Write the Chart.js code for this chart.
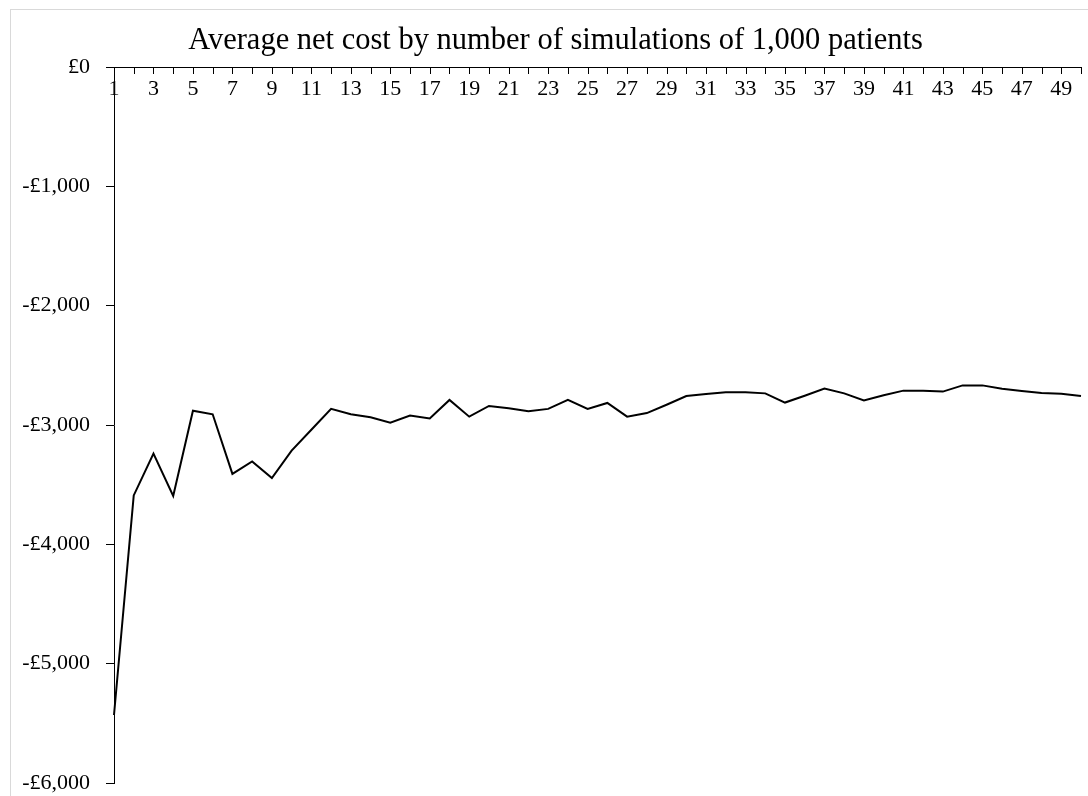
<!DOCTYPE html>
<html>
<head>
<meta charset="utf-8">
<script src="https://cdn.jsdelivr.net/npm/chart.js@4.4.1/dist/chart.umd.min.js"></script>
<style>
  html, body { margin: 0; padding: 0; background: #fff; overflow: hidden; }
  #frame { position: absolute; left: 10px; top: 9px; width: 1200px; height: 900px; border: 1px solid #d9d9d9; }
  #chart { position: absolute; left: 0; top: 0; }
</style>
</head>
<body>
<div id="frame"></div>
<canvas id="chart" width="1088" height="796"></canvas>
<script>
const simulations = ['1', '2', '3', '4', '5', '6', '7', '8', '9', '10',
  '11', '12', '13', '14', '15', '16', '17', '18', '19', '20',
  '21', '22', '23', '24', '25', '26', '27', '28', '29', '30',
  '31', '32', '33', '34', '35', '36', '37', '38', '39', '40',
  '41', '42', '43', '44', '45', '46', '47', '48', '49', '50'];

const avgNetCost = [-5430, -3590, -3240, -3595, -2880, -2910, -3410, -3305, -3445, -3215,
  -3040, -2865, -2910, -2935, -2980, -2920, -2945, -2790, -2930, -2840,
  -2860, -2885, -2865, -2790, -2865, -2815, -2930, -2900, -2830, -2757,
  -2740, -2725, -2725, -2735, -2812, -2755, -2695, -2735, -2795, -2750,
  -2712, -2712, -2720, -2668, -2668, -2696, -2715, -2732, -2738, -2757];

const yTicks = [0, -1000, -2000, -3000, -4000, -5000, -6000];
const yTickLabels = ['£0', '-£1,000', '-£2,000', '-£3,000', '-£4,000', '-£5,000', '-£6,000'];

const serif = "'Liberation Serif', 'Times New Roman', serif";

// small tick marks hanging down from the top axis
const topTicks = {
  id: 'topTicks',
  afterLayout(chart) {
    // title sits a little right of the canvas centre in the original
    if (chart.titleBlock) chart.titleBlock.left = 30;
  },
  afterDraw(chart) {
    const xs = chart.scales.x;
    const ctx = chart.ctx;
    ctx.save();
    ctx.strokeStyle = '#000';
    ctx.lineWidth = 1;
    ctx.beginPath();
    xs.ticks.forEach((t, i) => {
      const px = Math.round(xs.getPixelForTick(i)) + 0.5;
      ctx.moveTo(px, xs.bottom);
      ctx.lineTo(px, xs.bottom + 7);
    });
    ctx.stroke();
    ctx.restore();
  }
};

new Chart(document.getElementById('chart'), {
  type: 'line',
  data: {
    labels: simulations,
    datasets: [{
      data: avgNetCost,
      borderColor: '#000',
      borderWidth: 2,
      pointRadius: 0,
      tension: 0,
      fill: false
    }]
  },
  options: {
    responsive: false,
    animation: false,
    layout: { padding: { left: 0, right: 7, top: 0, bottom: 13 } },
    plugins: {
      legend: { display: false },
      tooltip: { enabled: false },
      title: {
        display: true,
        text: 'Average net cost by number of simulations of 1,000 patients',
        color: '#000',
        font: { family: serif, size: 30.5, weight: 'normal' },
        padding: { top: 22.2, bottom: 0 }
      }
    },
    scales: {
      x: {
        position: 'top',
        offset: false,
        grid: { display: false },
        border: { display: true, color: '#000', width: 1 },
        afterFit: (s) => { s.height = 8.2; s.paddingLeft = 0; s.paddingRight = 0; },
        ticks: {
          mirror: true,
          padding: 9,
          autoSkip: false,
          maxRotation: 0,
          color: '#000',
          font: { family: serif, size: 22 },
          callback: (v, i) => (i % 2 === 0 ? simulations[i] : '')
        }
      },
      y: {
        min: -6000,
        max: 0,
        afterBuildTicks: (s) => { s.ticks = yTicks.map(v => ({ value: v })); },
        afterFit: (s) => { s.width = 114; s.paddingTop = 0; s.paddingBottom = 0; },
        grid: { drawOnChartArea: false, tickLength: 8, color: '#000' },
        border: { display: true, color: '#000', width: 1 },
        ticks: {
          padding: 16,
          color: '#000',
          font: { family: serif, size: 22 },
          callback: (v) => yTickLabels[yTicks.indexOf(v)]
        }
      }
    }
  },
  plugins: [topTicks]
});
</script>
</body>
</html>
